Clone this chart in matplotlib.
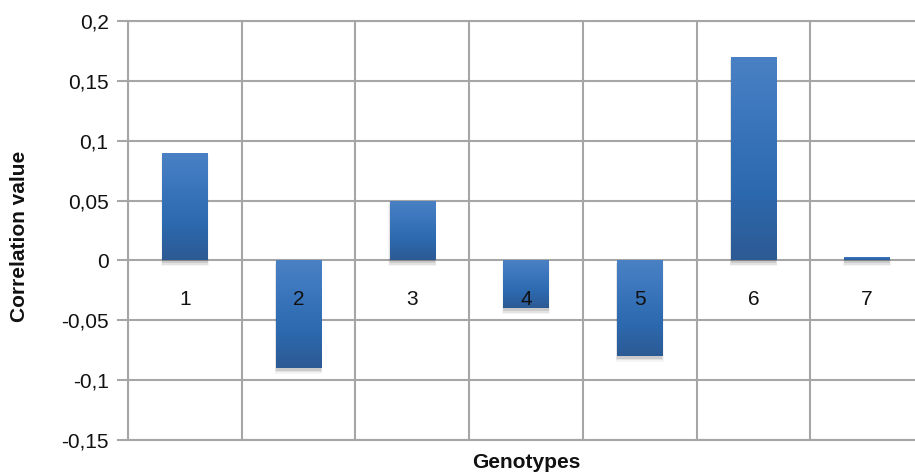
import matplotlib

matplotlib.use("Agg")
import matplotlib.pyplot as plt
import numpy as np
from matplotlib.colors import LinearSegmentedColormap
from matplotlib.patches import Rectangle
from matplotlib.ticker import FuncFormatter

# Correlation values per genotype
genotypes = ["1", "2", "3", "4", "5", "6", "7"]
corr_values = [0.09, -0.09, 0.05, -0.04, -0.08, 0.17, 0.003]

Y_MIN, Y_MAX = -0.15, 0.2
Y_STEP = 0.05
BAR_WIDTH = 0.4
GRID_COLOR = "#a6a6a6"
TEXT_COLOR = "#111111"

plt.rcParams["font.family"] = ["Liberation Sans", "DejaVu Sans"]

fig = plt.figure(figsize=(9.15, 4.73), dpi=100)
# plot area runs a little past the right edge of the picture, as in the original
ax = fig.add_axes([128 / 915, 1 - 440 / 473, 796 / 915, 419 / 473])

# vertical gradient for the bars: lighter at top, darker at bottom
bar_cmap = LinearSegmentedColormap.from_list(
    "excel_blue", ["#2d5a94", "#2c69ae", "#3a75bc", "#4a81c4"]
)
grad = np.linspace(0, 1, 256).reshape(-1, 1)

xs = np.arange(1, len(genotypes) + 1)
for x, v, name in zip(xs, corr_values, genotypes):
    lo, hi = min(0, v), max(0, v)
    # soft shadow under the bar
    for k, a in enumerate([0.10, 0.07, 0.04]):
        ax.add_patch(
            Rectangle(
                (x - BAR_WIDTH / 2 - 0.005 * k, lo - 0.002 - 0.0015 * k),
                BAR_WIDTH + 0.01 * k,
                hi - lo + 0.002,
                facecolor="black",
                edgecolor="none",
                alpha=a,
                zorder=2,
            )
        )
    img = ax.imshow(
        grad,
        cmap=bar_cmap,
        aspect="auto",
        origin="lower",
        extent=(x - BAR_WIDTH / 2, x + BAR_WIDTH / 2, lo, hi),
        zorder=3,
    )
    img.set_clip_path(
        Rectangle((x - BAR_WIDTH / 2, lo), BAR_WIDTH, hi - lo, transform=ax.transData)
    )
    # category label sits just below the zero line (Excel "next to axis")
    ax.text(x, -0.0325, name, ha="center", va="center", fontsize=15,
            color=TEXT_COLOR, zorder=5)

ax.set_xlim(0.5, len(genotypes) + 0.5)
ax.set_ylim(Y_MIN, Y_MAX)

yticks = np.round(np.arange(Y_MIN, Y_MAX + 1e-9, Y_STEP), 2)
ax.set_yticks(yticks)
ax.yaxis.set_major_formatter(
    FuncFormatter(lambda v, _: f"{v:g}".replace(".", ",") if abs(v) > 1e-9 else "0")
)
ax.set_xticks(np.arange(0.5, len(genotypes) + 1, 1.0))
ax.tick_params(axis="x", length=0, labelbottom=False)
ax.tick_params(
    axis="y", length=8, width=1.5, color=GRID_COLOR, labelsize=15, pad=6,
    labelcolor=TEXT_COLOR,
)

ax.grid(True, color=GRID_COLOR, linewidth=1.5, zorder=0)
ax.set_axisbelow(True)
for side in ["top", "right", "bottom", "left"]:
    ax.spines[side].set_color(GRID_COLOR)
    ax.spines[side].set_linewidth(1.5)

fig.text(20 / 915, 1 - 236 / 473, "Correlation value", rotation=90,
         ha="center", va="center", fontsize=15, fontweight="bold", color=TEXT_COLOR)
fig.text(526 / 915, 1 - 462 / 473, "Genotypes",
         ha="center", va="center", fontsize=15, fontweight="bold", color=TEXT_COLOR)

fig.savefig("out.png", dpi=100)
